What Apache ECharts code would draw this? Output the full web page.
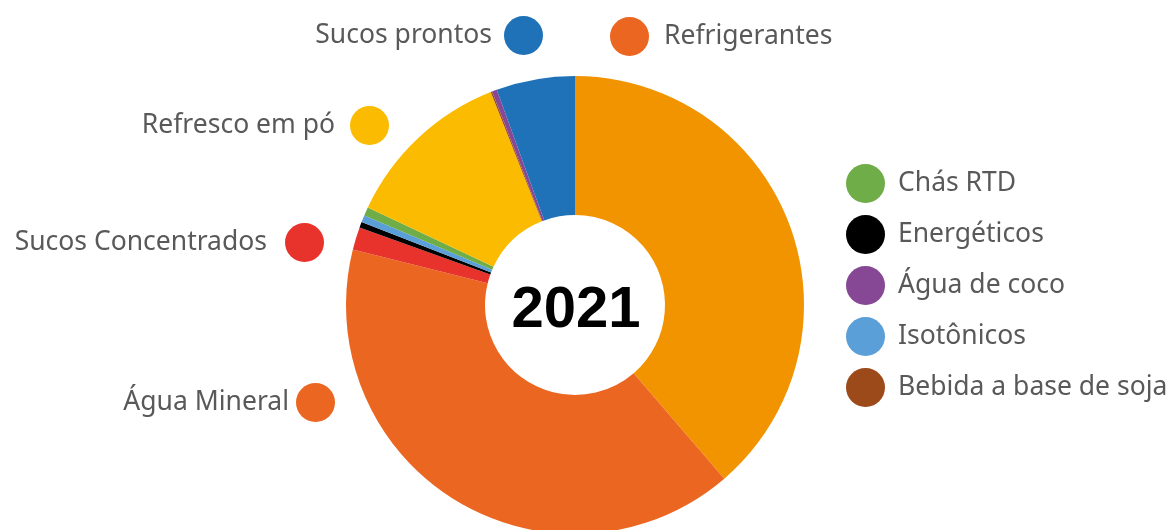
<!DOCTYPE html>
<html>
<head>
<meta charset="utf-8">
<script src="https://cdn.jsdelivr.net/npm/echarts@6/dist/echarts.min.js"></script>
<style>
  html, body { margin: 0; padding: 0; background: #fff; }
  #chart { width: 1172px; height: 530px; }
</style>
</head>
<body>
<div id="chart"></div>
<script>
// categorias em ordem horaria a partir do topo
const categorias = ["Refrigerantes", "Água Mineral", "Sucos Concentrados", "Energéticos", "Isotônicos",
  "Chás RTD", "Refresco em pó", "Bebida a base de soja", "Água de coco", "Sucos prontos"];
const valores = [38.7, 40.2, 1.6, 0.4, 0.5, 0.6, 12.0, 0.1, 0.35, 5.55];
const cores = ["#f29400", "#eb6620", "#e8332d", "#000000", "#5b9fd8",
  "#6ead47", "#fbbb00", "#9c4a1a", "#864895", "#1f72b8"];
const legendaLateral = ["Chás RTD", "Energéticos", "Água de coco", "Isotônicos", "Bebida a base de soja"];
const ano = "2021";

const fonte = "'Noto Sans', sans-serif";
const corTexto = "#595959";
const tamFonte = 26.5;

const mychart = echarts.init(document.getElementById("chart"));

function rotulo(nome, pos, alinhar, gap, cor) {
  const item = { name: nome };
  if (cor) item.itemStyle = { color: cor };
  return Object.assign({
    data: [item],
    orient: "horizontal",
    align: alinhar,
    icon: "circle",
    itemWidth: 39,
    itemHeight: 39,
    padding: 0,
    selectedMode: false,
    textStyle: { fontSize: tamFonte, color: corTexto, fontFamily: fonte,
      padding: alinhar === "right" ? [0, gap, 0, 0] : [0, 0, 0, gap] }
  }, pos);
}

mychart.setOption({
  animation: false,
  legend: [
    {
      data: legendaLateral,
      orient: "vertical",
      left: 846,
      top: 164,
      icon: "circle",
      itemWidth: 39,
      itemHeight: 39,
      itemGap: 12,
      padding: 0,
      selectedMode: false,
      textStyle: { fontSize: tamFonte, color: corTexto, fontFamily: fonte, padding: [0, 0, 0, 8] }
    },
    rotulo("Sucos prontos", { right: 629, top: 16 }, "right", 7),
    rotulo("Refrigerantes", { left: 610, top: 17 }, "left", 10, "#eb6620"),
    rotulo("Refresco em pó", { right: 783, top: 106 }, "right", 10),
    rotulo("Sucos Concentrados", { right: 848, top: 223 }, "right", 13),
    rotulo("Água Mineral", { right: 837, top: 383 }, "right", 2)
  ],
  graphic: [{
    type: "text",
    style: {
      text: ano,
      x: 576,
      y: 311,
      align: "center",
      verticalAlign: "middle",
      font: "bold 58px 'Liberation Sans', Arial, sans-serif",
      fill: "#000"
    }
  }],
  series: [{
    type: "pie",
    center: [575, 305],
    radius: [90, 229],
    startAngle: 90,
    clockwise: true,
    label: { show: false },
    labelLine: { show: false },
    emphasis: { disabled: true },
    data: categorias.map((c, i) => ({ name: c, value: valores[i], itemStyle: { color: cores[i] } }))
  }]
});
</script>
</body>
</html>
